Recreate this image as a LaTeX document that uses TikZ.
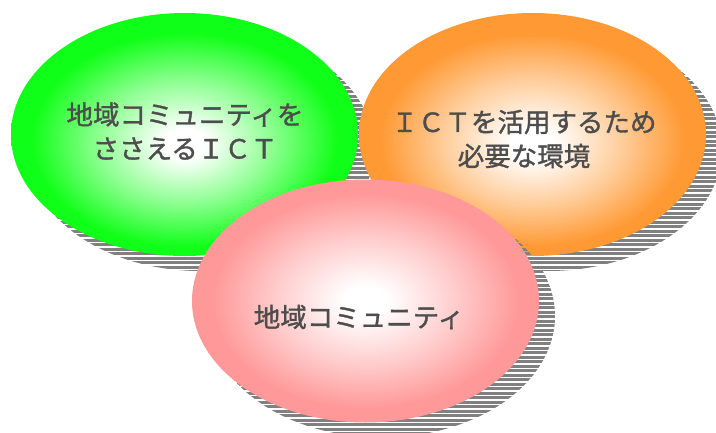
\documentclass[tikz,border=0pt]{standalone}
\usepackage{fontspec}
\newfontfamily\jp{Noto Sans CJK JP}[FakeBold=1.3]
\usetikzlibrary{shapes.geometric}
\definecolor{ggreen}{RGB}{16,255,24}
\definecolor{gorange}{RGB}{255,153,51}
\definecolor{gpink}{RGB}{255,153,153}
\definecolor{shadowgray}{RGB}{128,128,128}
\definecolor{txtgray}{RGB}{77,77,77}
\pgfdeclareradialshading{greenshade}{\pgfpoint{0bp}{-2bp}}{color(0bp)=(white); color(3bp)=(white); color(13bp)=(ggreen!50!white); color(22bp)=(ggreen); color(50bp)=(ggreen)}
\pgfdeclareradialshading{orangeshade}{\pgfpoint{0bp}{-2bp}}{color(0bp)=(white); color(3bp)=(white); color(13bp)=(gorange!50!white); color(22bp)=(gorange); color(50bp)=(gorange)}
\pgfdeclareradialshading{pinkshade}{\pgfpoint{0bp}{0bp}}{color(0bp)=(white); color(3bp)=(white); color(13bp)=(gpink!50!white); color(22bp)=(gpink); color(50bp)=(gpink)}
\tikzset{
  bubble/.style={ellipse, draw=none, minimum width=347pt, minimum height=243pt, inner sep=0pt},
  label/.style={font=\jp\fontsize{26.5}{34}\selectfont, text=txtgray, align=center, inner sep=0pt},
}
\newcommand{\stripeshadow}[2]{%
  \begin{scope}
    \clip (#1+16,#2+15) ellipse [x radius=173.5pt, y radius=121.5pt];
    \foreach \k in {0,...,100} {
      \fill[shadowgray] (0,\k*4.5) rectangle (716,\k*4.5+3.2);
    }
  \end{scope}}
\begin{document}
\begin{tikzpicture}[x=1pt,y=-1pt]
\useasboundingbox (0,0) rectangle (716,432);
% green
\stripeshadow{184.5}{134.5}
\node[bubble, shading=greenshade] (green) at (184.5,134.5) {};
% orange
\stripeshadow{532.5}{134.5}
\node[bubble, shading=orangeshade] (orange) at (532.5,134.5) {};
% pink
\stripeshadow{365.5}{301}
\node[bubble, shading=pinkshade] (pink) at (365.5,301) {};
% texts
\node[label] (gtext) at (185,131) {地域コミュニティを\\ささえるＩＣＴ};
\node[label] (otext) at (524,139) {ＩＣＴを活用するため\\必要な環境};
\node[label] (ptext) at (359,317) {地域コミュニティ};
\end{tikzpicture}
\end{document}
